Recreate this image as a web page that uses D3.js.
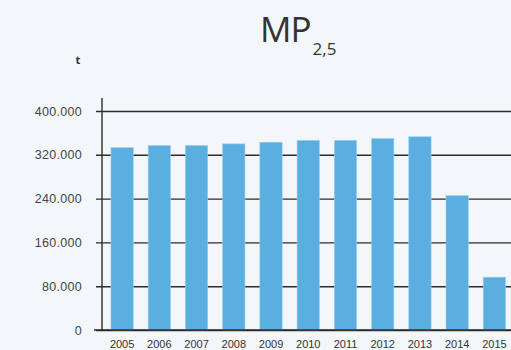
<!DOCTYPE html>
<html>
<head>
<meta charset="utf-8">
<script src="https://cdn.jsdelivr.net/npm/d3@7"></script>
<style>
  body { margin: 0; background: #f3f7fa; }
  svg { display: block; font-family: "Open Sans", "Liberation Sans", sans-serif; }
</style>
</head>
<body>
<div class="mpchart"></div>
<script>
const years = ["2005", "2006", "2007", "2008", "2009", "2010", "2011", "2012", "2013", "2014", "2015"];
const emissions = [333000, 337000, 337000, 340000, 343000, 346500, 346500, 349500, 353000, 245500, 96500];
const yTicks = [0, 80000, 160000, 240000, 320000, 400000];

const width = 511, height = 350;

const svg = d3.select(".mpchart")
    .append("svg")
    .attr("width", width)
    .attr("height", height);

svg.append("rect").attr("width", width).attr("height", height).attr("fill", "#f3f7fa");

const x = d3.scaleBand()
    .domain(years)
    .range([103.5, 513])
    .paddingInner(0.4)
    .paddingOuter(0.2);

const y = d3.scaleLinear()
    .domain([0, 400000])
    .range([330, 111]);

const fmt = d3.formatLocale({ decimal: ",", thousands: ".", grouping: [3], currency: ["", ""] }).format(",");

// gridlines + tick labels
const yAxis = svg.append("g")
    .attr("transform", "translate(96,0)")
    .call(d3.axisLeft(y).tickValues(yTicks).tickFormat(fmt).tickSizeInner(-430).tickSizeOuter(0).tickPadding(14));
yAxis.select(".domain").remove();
yAxis.selectAll("line").attr("stroke", "#2b2b2b").attr("stroke-width", 1.4);
yAxis.selectAll("text").attr("fill", "#444").style("font-size", "12.5px").style("letter-spacing", "0.3px");

// bars
svg.selectAll(".bar")
    .data(emissions)
    .join("rect")
    .attr("class", "bar")
    .attr("x", (d, i) => x(years[i]))
    .attr("y", d => y(d))
    .attr("width", x.bandwidth())
    .attr("height", d => y(0) - y(d))
    .attr("fill", "#5aafe0")
    .attr("stroke", "#9fd0ee")
    .attr("stroke-width", 0.6);

// baseline on top of bars
svg.append("line")
    .attr("x1", 94).attr("x2", 520)
    .attr("y1", y(0)).attr("y2", y(0))
    .attr("stroke", "#2b2b2b").attr("stroke-width", 1.4);

// vertical axis
svg.append("line")
    .attr("x1", 102).attr("x2", 102)
    .attr("y1", 98).attr("y2", y(0))
    .attr("stroke", "#2b2b2b").attr("stroke-width", 1.4);

// year labels
const xAxis = svg.append("g")
    .attr("transform", `translate(0,${y(0)})`)
    .call(d3.axisBottom(x).tickSize(0).tickPadding(10));
xAxis.select(".domain").remove();
xAxis.selectAll("text").attr("fill", "#333").style("font-size", "11px");

// unit label
svg.append("text")
    .attr("x", 78).attr("y", 64)
    .attr("text-anchor", "middle")
    .attr("fill", "#333")
    .style("font-size", "11px")
    .style("font-weight", "bold")
    .text("t");

// title
const title = svg.append("text")
    .attr("x", 260).attr("y", 42)
    .attr("fill", "#333")
    .style("font-size", "35px");
title.append("tspan").style("letter-spacing", "-1px").text("MP");
title.append("tspan").attr("dx", 2).attr("dy", 13).style("font-size", "17px").text("2,5");
</script>
</body>
</html>
